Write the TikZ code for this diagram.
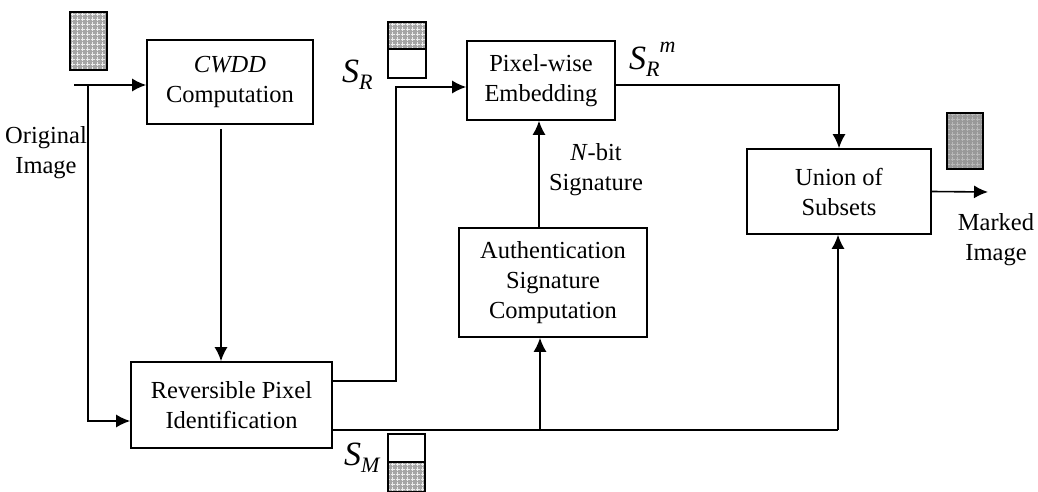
\documentclass[tikz,border=0pt]{standalone}
\usepackage{fontspec}
\setmainfont{Liberation Serif}
\usetikzlibrary{arrows.meta,patterns}

% set symbol: large italic S with an italic subscript
\newcommand\setsym[1]{{\fontsize{34}{34}\selectfont\itshape S}\raisebox{-7pt}{\fontsize{22}{22}\selectfont\itshape #1}}

% texture of small plus signs used for the image icons
\pgfdeclarepatternformonly{plusgrid}{\pgfqpoint{-1pt}{-1pt}}{\pgfqpoint{6pt}{6pt}}{\pgfqpoint{5pt}{5pt}}{
  \pgfsetlinewidth{0.9pt}
  \pgfpathmoveto{\pgfqpoint{0.5pt}{2.5pt}}\pgfpathlineto{\pgfqpoint{4.5pt}{2.5pt}}
  \pgfpathmoveto{\pgfqpoint{2.5pt}{0.5pt}}\pgfpathlineto{\pgfqpoint{2.5pt}{4.5pt}}
  \pgfusepath{stroke}}

\begin{document}
\begin{tikzpicture}[x=1pt,y=-1pt,
  block/.style={draw, line width=1.6pt, align=center, inner sep=0pt,
                font=\fontsize{24.5}{30}\selectfont},
  lbl/.style={align=center, inner sep=0pt, font=\fontsize{24.5}{30}\selectfont},
  conn/.style={line width=1.6pt},
  arr/.style={conn, -{Latex[length=14pt,width=13pt]}},
  frame/.style={draw, line width=1.6pt},
  lightfill/.style={fill=gray!70},
  darkfill/.style={fill=gray!80},
  dots/.style={pattern=plusgrid, pattern color=gray!15}
]
\useasboundingbox (0,0) rectangle (1038,492);

% processing blocks
\node[block, minimum width=166, minimum height=84] (cwdd) at (230,82) {\textit{CWDD}\\Computation};
\node[block, minimum width=201, minimum height=86] (rpi)  at (231.5,405) {Reversible Pixel\\Identification};
\node[block, minimum width=148, minimum height=79] (pwe)  at (541,80.5) {Pixel-wise\\Embedding};
\node[block, minimum width=188, minimum height=109] (asc) at (553,282.5) {Authentication\\Signature\\Computation};
\node[block, minimum width=184, minimum height=85] (uni)  at (839,191.5) {Union of\\Subsets};

% plain labels
\node[lbl] (orig)   at (46,153)  {Original\\Image};
\node[lbl] (nbit)   at (596,170) {\textit{N}-bit\\Signature};
\node[lbl] (marked) at (996,240) {Marked\\Image};

% set symbols
\node[anchor=base west, inner sep=0pt] (sr)  at (342,83)  {\setsym{R}};
\node[anchor=base west, inner sep=0pt] (srm) at (629,70)  {\setsym{R}\raisebox{17pt}{\fontsize{22}{22}\selectfont\itshape m}};
\node[anchor=base west, inner sep=0pt] (sm)  at (344,465) {\setsym{M}};

% image icons
\fill[lightfill] (70,12) rectangle (107,70);
\fill[dots] (70,12) rectangle (107,70);
\draw[frame] (70,12) rectangle (107,70);

\fill[lightfill] (388,22) rectangle (426,49);
\fill[dots] (388,22) rectangle (426,49);
\draw[frame] (388,22) rectangle (426,78);
\draw[frame] (388,49) -- (426,49);

\fill[lightfill] (388,462) rectangle (425,492);
\fill[dots] (388,462) rectangle (425,492);
\draw[frame] (388,434) rectangle (425,492);
\draw[frame] (388,462) -- (425,462);

\fill[darkfill] (947,113) rectangle (983,169);
\fill[pattern=plusgrid, pattern color=gray!55] (947,113) rectangle (983,169);
\draw[frame] (947,113) rectangle (983,169);

% connectors
\coordinate (oin) at (74,85);
\coordinate (osplit) at (88,85);
\draw[arr] (oin) -- (oin -| cwdd.west);
\draw[arr] (osplit) |- ([yshift=-16pt]rpi.west);

\draw[arr] ([xshift=-9pt,yshift=-4pt]cwdd.south) -- ([xshift=-9pt]cwdd.south |- rpi.north);

\coordinate (bendlow) at (396,381);
\coordinate (bendhigh) at (396,87);
\draw[arr] ([yshift=24pt]rpi.east) -- (bendlow) -- (bendhigh) -- (bendhigh -| pwe.west);

\coordinate (jasc) at (540,430);
\coordinate (juni) at (838,430);
\draw[conn] ([yshift=-25pt]rpi.east) -- (juni);
\draw[arr] (jasc) -- (jasc |- asc.south);
\draw[arr] (juni) -- (juni |- uni.south);

\draw[arr] ([xshift=-14pt]asc.north) -- ([xshift=-14pt]asc.north |- pwe.south);

\draw[arr] ([yshift=-4.5pt]pwe.east) -| (uni.north);

\coordinate (mout) at (988,192);
\draw[arr] (uni.east) -- (mout);
\end{tikzpicture}
\end{document}
